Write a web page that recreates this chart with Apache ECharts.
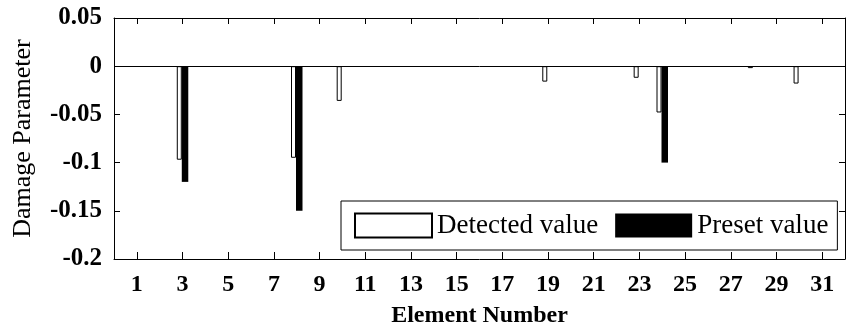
<!DOCTYPE html>
<html>
<head>
<meta charset="utf-8">
<script src="https://cdn.jsdelivr.net/npm/echarts@6/dist/echarts.min.js"></script>
<style>html,body{margin:0;padding:0;background:#fff}#c{width:846px;height:331px}</style>
</head>
<body>
<div id="c"></div>
<script>
// Element numbers (0..32 axis positions)
var elements = ['0','1','2','3','4','5','6','7','8','9','10','11','12','13','14','15','16','17','18','19','20','21','22','23','24','25','26','27','28','29','30','31','32'];
// Detected damage values (null = no bar)
var detected = [null,null,null,-0.097,null,null,null,null,-0.095,null,-0.036,null,null,null,null,null,null,null,null,-0.016,null,null,null,-0.012,-0.048,null,null,null,-0.002,null,-0.018,null,null];
// Preset damage values
var preset = [null,null,null,-0.12,null,null,null,null,-0.15,null,null,null,null,null,null,null,null,null,null,null,null,null,null,null,-0.1,null,null,null,null,null,null,null,null];
var seriesNames = ['Detected value', 'Preset value'];
var yMin = -0.2, yMax = 0.05, yStep = 0.05;

var serif = '"Liberation Serif", "Times New Roman", serif';
var chart = echarts.init(document.getElementById('c'));
var oddOnly = function (idx) { return idx % 2 === 1; };
chart.setOption({
  animation: false,
  backgroundColor: '#fff',
  grid: { left: 114, right: 1, top: 18, bottom: 72, containLabel: false, outerBoundsMode: 'none' },
  legend: {
    data: seriesNames,
    left: 341, top: 201,
    icon: 'rect',
    itemWidth: 77, itemHeight: 24, itemGap: 17,
    padding: [11, 9, 11, 13],
    borderColor: '#000', borderWidth: 1,
    backgroundColor: '#fff',
    textStyle: { fontFamily: serif, fontSize: 27, color: '#000' }
  },
  xAxis: [{
    type: 'category',
    data: elements,
    boundaryGap: false,
    position: 'bottom',
    name: 'Element Number',
    nameLocation: 'middle',
    nameGap: 45,
    nameTextStyle: { fontFamily: serif, fontSize: 24, fontWeight: 'bold', color: '#000' },
    axisLine: { onZero: false, lineStyle: { color: '#000', width: 1 } },
    axisTick: { inside: true, length: 7, interval: oddOnly, lineStyle: { color: '#000' } },
    axisLabel: { interval: oddOnly, margin: 14, fontFamily: serif, fontSize: 24, fontWeight: 'bold', color: '#000' },
    splitLine: { show: false }
  }, {
    type: 'category',
    data: elements,
    boundaryGap: false,
    position: 'top',
    axisLine: { onZero: false, lineStyle: { color: '#000', width: 1 } },
    axisTick: { inside: true, length: 6, interval: oddOnly, lineStyle: { color: '#000' } },
    axisLabel: { show: false },
    splitLine: { show: false }
  }],
  yAxis: [{
    type: 'value',
    min: yMin, max: yMax, interval: yStep,
    position: 'left',
    name: 'Damage Parameter',
    nameLocation: 'middle',
    nameGap: 78,
    nameTextStyle: { fontFamily: serif, fontSize: 26, color: '#000' },
    axisLine: { show: true, onZero: false, lineStyle: { color: '#000', width: 1 } },
    axisTick: { show: true, inside: true, length: 6, lineStyle: { color: '#000' } },
    axisLabel: { margin: 12, fontFamily: serif, fontSize: 25, fontWeight: 'bold', color: '#000' },
    splitLine: { show: false }
  }, {
    type: 'value',
    min: yMin, max: yMax, interval: yStep,
    position: 'right',
    axisLine: { show: true, onZero: false, lineStyle: { color: '#000', width: 1 } },
    axisTick: { show: true, inside: true, length: 6, lineStyle: { color: '#000' } },
    axisLabel: { show: false },
    splitLine: { show: false }
  }],
  series: [{
    name: seriesNames[0],
    type: 'bar',
    data: detected,
    barWidth: 5,
    barGap: 0,
    itemStyle: { color: '#fff', borderColor: '#000', borderWidth: 1 },
    markLine: {
      silent: true, symbol: 'none', label: { show: false },
      lineStyle: { color: '#000', width: 1, type: 'solid' },
      data: [{ yAxis: 0 }]
    }
  }, {
    name: seriesNames[1],
    type: 'bar',
    data: preset,
    barWidth: 6.5,
    barGap: 0,
    itemStyle: { color: '#000', borderColor: '#000', borderWidth: 0 }
  }]
});
</script>
</body>
</html>
